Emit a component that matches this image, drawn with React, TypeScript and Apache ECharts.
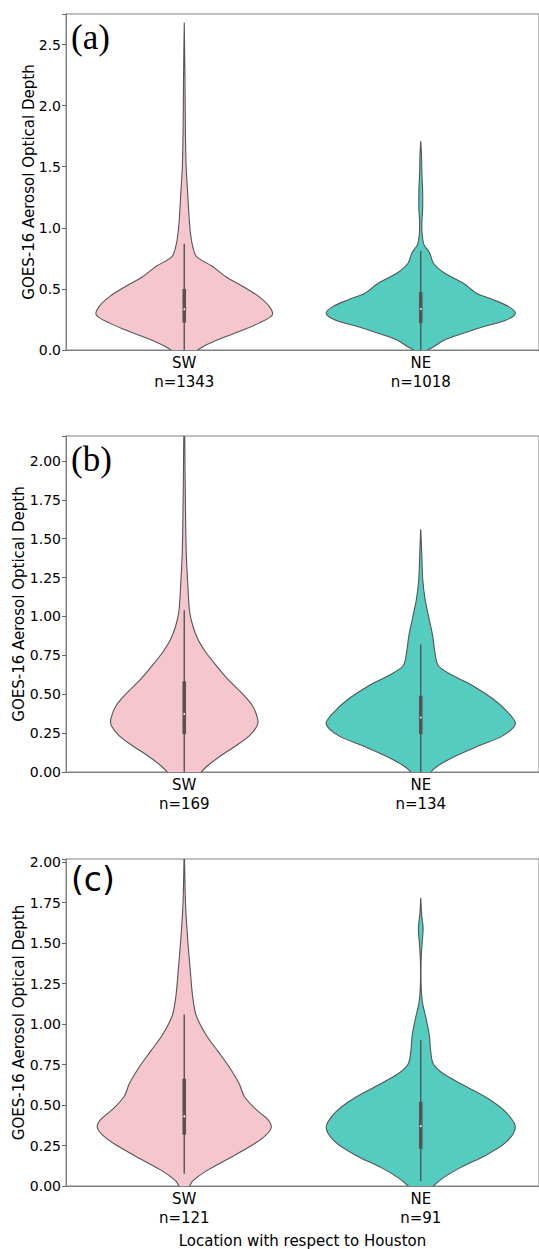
import React, { useEffect, useRef } from "react";
import * as echarts from "echarts";

// ---------- data ----------
const categories = ["SW", "NE"];
const panelLabels = ["(a)", "(b)", "(c)"];
const sampleSizes = [
  [1343, 1018],
  [169, 134],
  [121, 91],
];
const yMax = [2.75, 2.16, 2.02];
const yInterval = [0.5, 0.25, 0.25];
const yDecimals = [1, 2, 2];

// violin outlines: [value, relative density]
const violinSW_a = [
  [2.68, 0], [2.2, 0.008], [1.8, 0.012], [1.5, 0.02], [1.3, 0.035], [1.1, 0.05], [0.96, 0.065],
  [0.847, 0.09], [0.765, 0.13], [0.683, 0.3], [0.6, 0.44], [0.52, 0.62], [0.437, 0.79],
  [0.355, 0.9], [0.287, 0.93], [0.22, 0.79], [0.164, 0.62], [0.11, 0.44], [0.055, 0.27],
  [0, 0.14], [-0.1, 0],
];
const violinNE_a = [
  [1.71, 0], [1.6, 0.008], [1.45, 0.012], [1.3, 0.02], [1.15, 0.02], [1.05, 0.012], [0.95, 0.015],
  [0.86, 0.035], [0.8, 0.09], [0.71, 0.135], [0.63, 0.25], [0.547, 0.45], [0.465, 0.59],
  [0.41, 0.77], [0.355, 0.93], [0.3, 1.0], [0.246, 0.905], [0.19, 0.66], [0.137, 0.45],
  [0.082, 0.25], [0.027, 0.137], [0, 0.074], [-0.06, 0],
];
const violinSW_b = [
  [2.3, 0], [2.1, 0.006], [1.835, 0.01], [1.41, 0.021], [1.19, 0.039], [1.035, 0.056],
  [0.94, 0.09], [0.853, 0.144], [0.768, 0.23], [0.683, 0.34], [0.597, 0.46], [0.512, 0.6],
  [0.427, 0.72], [0.341, 0.776], [0.298, 0.77], [0.234, 0.69], [0.17, 0.55], [0.106, 0.39],
  [0.042, 0.25], [0, 0.18], [-0.12, 0],
];
const violinNE_b = [
  [1.56, 0], [1.408, 0.0105], [1.237, 0.021], [1.11, 0.046], [0.98, 0.09], [0.875, 0.126],
  [0.768, 0.15], [0.683, 0.186], [0.62, 0.34], [0.555, 0.55], [0.469, 0.765], [0.384, 0.92],
  [0.309, 1.0], [0.234, 0.87], [0.17, 0.62], [0.106, 0.38], [0.042, 0.186], [0, 0.105],
  [-0.08, 0],
];
const violinSW_c = [
  [2.15, 0], [1.936, 0.005], [1.735, 0.014], [1.535, 0.035], [1.335, 0.063], [1.174, 0.088],
  [1.054, 0.126], [0.934, 0.23], [0.833, 0.355], [0.734, 0.477], [0.633, 0.58], [0.553, 0.635],
  [0.473, 0.758], [0.413, 0.88], [0.363, 0.92], [0.313, 0.86], [0.253, 0.72], [0.172, 0.477],
  [0.092, 0.23], [0.032, 0.09], [0, 0.056], [-0.05, 0],
];
const violinNE_c = [
  [1.78, 0], [1.675, 0.01], [1.595, 0.025], [1.495, 0.014], [1.395, 0.004], [1.235, 0.004],
  [1.134, 0.018], [1.034, 0.056], [0.934, 0.09], [0.833, 0.105], [0.753, 0.133], [0.693, 0.24],
  [0.613, 0.484], [0.533, 0.73], [0.453, 0.905], [0.363, 1.0], [0.272, 0.905], [0.192, 0.695],
  [0.112, 0.414], [0.052, 0.24], [0, 0.133], [-0.08, 0],
];
const violins = [
  [violinSW_a, violinNE_a],
  [violinSW_b, violinNE_b],
  [violinSW_c, violinNE_c],
];

// inner box: [lower whisker, q1, median, q3, upper whisker]
const boxStats = [
  [[0, 0.224, 0.334, 0.5, 0.87], [0, 0.22, 0.336, 0.475, 0.81]],
  [[0, 0.243, 0.373, 0.583, 1.04], [0, 0.243, 0.35, 0.49, 0.82]],
  [[0.076, 0.317, 0.43, 0.663, 1.06], [0.03, 0.23, 0.37, 0.52, 0.9]],
];

const fillColors = ["#F5C6CE", "#54CCC0"];
const edgeColor = "#555555";

// ---------- layout ----------
const gridTops = [14, 436, 859];
const gridHeight = 336;
const gridLeft = 66;
const gridWidth = 474;
const labelY = [37, 459, 879];
const labelFonts = ["Liberation Serif", "Liberation Serif", "DejaVu Sans"];
const labelSizes = [35, 35, 33];
const yNameGaps = [30, 40, 40];

export default function App() {
  const ref = useRef<HTMLDivElement>(null);

  useEffect(() => {
    document.body.style.margin = "0";
    if (!ref.current) return;
    const chart = echarts.init(ref.current, null, { renderer: "svg" });

    const makeRender = (p: number) => (params: any, api: any) => {
      const idx = api.value(0);
      const prof = violins[p][idx];
      const cx = api.coord([idx, 0])[0];
      const band = api.size([1, 0])[0];
      const s = band * 0.4;
      const right = prof.map(([v, d]) => [cx + d * s, api.coord([idx, v])[1]]);
      const left = prof
        .slice()
        .reverse()
        .map(([v, d]) => [cx - d * s, api.coord([idx, v])[1]]);
      const [lo, q1, med, q3, hi] = boxStats[p][idx];
      const yLo = api.coord([idx, lo])[1];
      const yHi = api.coord([idx, hi])[1];
      const yQ1 = api.coord([idx, q1])[1];
      const yQ3 = api.coord([idx, q3])[1];
      const yMed = api.coord([idx, med])[1];
      return {
        type: "group",
        children: [
          {
            type: "polygon",
            shape: { points: right.concat(left), smooth: 0.3 },
            style: { fill: fillColors[idx], stroke: edgeColor, lineWidth: 1.1 },
          },
          {
            type: "line",
            shape: { x1: cx, y1: yHi, x2: cx, y2: yLo },
            style: { stroke: edgeColor, lineWidth: 1.4 },
          },
          {
            type: "rect",
            shape: { x: cx - 1.8, y: yQ3, width: 3.6, height: yQ1 - yQ3 },
            style: { fill: edgeColor },
          },
          {
            type: "circle",
            shape: { cx, cy: yMed, r: 0.9 },
            style: { fill: "#ffffff" },
          },
        ],
      };
    };

    const grids = gridTops.map((t) => ({
      left: gridLeft,
      top: t,
      width: gridWidth,
      height: gridHeight,
      show: true,
      borderColor: "#808080",
      borderWidth: 1,
      backgroundColor: "transparent",
    }));

    const xAxes = [0, 1, 2].map((p) => ({
      type: "category",
      gridIndex: p,
      data: categories,
      axisLine: { show: true, lineStyle: { color: "#808080", width: 1 } },
      axisTick: { show: false },
      axisLabel: {
        color: "#000",
        fontSize: 15,
        lineHeight: 19,
        fontFamily: "DejaVu Sans",
        margin: 3,
        formatter: (val: string, i: number) => `${val}\nn=${sampleSizes[p][i]}`,
      },
      name: p === 2 ? "Location with respect to Houston" : "",
      nameLocation: "middle",
      nameGap: 47,
      nameTextStyle: { color: "#000", fontSize: 15, fontFamily: "DejaVu Sans" },
    }));

    const yAxes = [0, 1, 2].map((p) => ({
      type: "value",
      gridIndex: p,
      min: 0,
      max: yMax[p],
      interval: yInterval[p],
      splitLine: { show: false },
      axisLine: { show: true, lineStyle: { color: "#808080", width: 1 } },
      axisTick: { show: true, length: 4, lineStyle: { color: "#666" } },
      axisLabel: {
        color: "#000",
        fontSize: 14,
        fontFamily: "DejaVu Sans",
        margin: 5,
        formatter: (v: number) => {
          const k = v / yInterval[p];
          if (Math.abs(k - Math.round(k)) > 1e-6) return "";
          return v.toFixed(yDecimals[p]);
        },
      },
      name: "GOES-16 Aerosol Optical Depth",
      nameLocation: "middle",
      nameGap: yNameGaps[p],
      nameMoveOverlap: false,
      nameTextStyle: { color: "#000", fontSize: 15, fontFamily: "DejaVu Sans" },
    }));

    const series = [0, 1, 2].map((p) => ({
      type: "custom",
      xAxisIndex: p,
      yAxisIndex: p,
      clip: true,
      data: [
        [0, 0],
        [1, 0],
      ],
      encode: { x: 0, y: 1 },
      renderItem: makeRender(p),
    }));

    const graphic = panelLabels.map((t, p) => ({
      type: "text",
      x: 71,
      y: labelY[p],
      z: 100,
      style: {
        text: t,
        fill: "#000",
        fontSize: labelSizes[p],
        fontFamily: labelFonts[p],
        verticalAlign: "middle",
      },
    }));

    chart.setOption({
      animation: false,
      backgroundColor: "#ffffff",
      grid: grids,
      xAxis: xAxes,
      yAxis: yAxes,
      series,
      graphic,
    });

    return () => chart.dispose();
  }, []);

  return <div ref={ref} style={{ width: 539, height: 1249 }} />;
}
